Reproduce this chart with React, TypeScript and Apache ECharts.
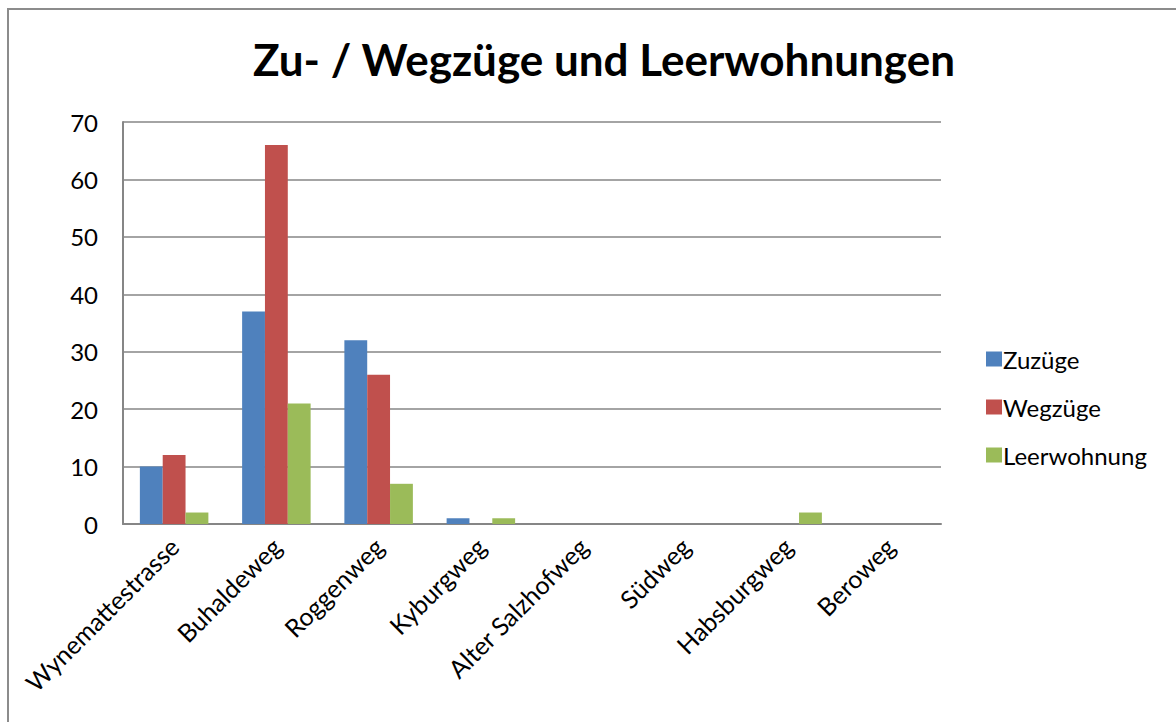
import React, { useEffect, useRef } from "react";
import * as echarts from "echarts";

const categories = [
  "Wynemattestrasse",
  "Buhaldeweg",
  "Roggenweg",
  "Kyburgweg",
  "Alter Salzhofweg",
  "Südweg",
  "Habsburgweg",
  "Beroweg",
];
const zuzuege = [10, 37, 32, 1, 0, 0, 0, 0];
const wegzuege = [12, 66, 26, 0, 0, 0, 0, 0];
const leerwohnung = [2, 21, 7, 1, 0, 0, 2, 0];

const FONT = "Lato";

export default function App() {
  const ref = useRef<HTMLDivElement>(null);
  useEffect(() => {
    if (!ref.current) return;
    const chart = echarts.init(ref.current, undefined, { renderer: "svg" });
    const mk = (name: string, data: number[], color: string) => ({
      name,
      type: "bar",
      data,
      barGap: "0%",
      barCategoryGap: "33%",
      itemStyle: { color },
    });
    chart.setOption({
      animation: false,
      backgroundColor: "#ffffff",
      title: {
        text: "Zu- / Wegzüge und Leerwohnungen",
        left: 599,
        textAlign: "center",
        top: 32,
        textStyle: { fontFamily: FONT, fontSize: 44, fontWeight: "bold", color: "#000" },
      },
      grid: { left: 123, top: 122, right: 235, bottom: 198, containLabel: false },
      legend: {
        orient: "vertical",
        left: 981,
        top: 342,
        itemWidth: 16,
        itemHeight: 15,
        itemGap: 24,
        icon: "rect",
        textStyle: { fontFamily: FONT, fontSize: 24, color: "#000", padding: [0, 0, 0, -4] },
        data: ["Zuzüge", "Wegzüge", "Leerwohnung"],
      },
      xAxis: {
        type: "category",
        data: categories,
        axisLine: { lineStyle: { color: "#868686", width: 2 } },
        axisTick: { show: false },
        axisLabel: {
          rotate: 45,
          interval: 0,
          margin: 18,
          fontFamily: FONT,
          fontSize: 25,
          color: "#000",
        },
      },
      yAxis: {
        type: "value",
        min: 0,
        max: 70,
        interval: 10,
        axisLine: { show: true, lineStyle: { color: "#868686", width: 2 } },
        axisTick: { show: false },
        splitLine: { lineStyle: { color: "#868686", width: 1.5 } },
        axisLabel: { fontFamily: FONT, fontSize: 24, color: "#000", margin: 25 },
      },
      graphic: [
        {
          type: "rect",
          shape: { x: 8, y: 9, width: 1300, height: 900 },
          style: { fill: "none", stroke: "#8c8c8c", lineWidth: 2 },
          silent: true,
        },
      ],
      series: [
        mk("Zuzüge", zuzuege, "#4F81BD"),
        mk("Wegzüge", wegzuege, "#C0504D"),
        mk("Leerwohnung", leerwohnung, "#9BBB59"),
      ],
    });
    return () => chart.dispose();
  }, []);
  return (
    <div
      ref={ref}
      style={{ position: "fixed", left: 0, top: 0, width: 1176, height: 722, background: "#fff" }}
    />
  );
}
